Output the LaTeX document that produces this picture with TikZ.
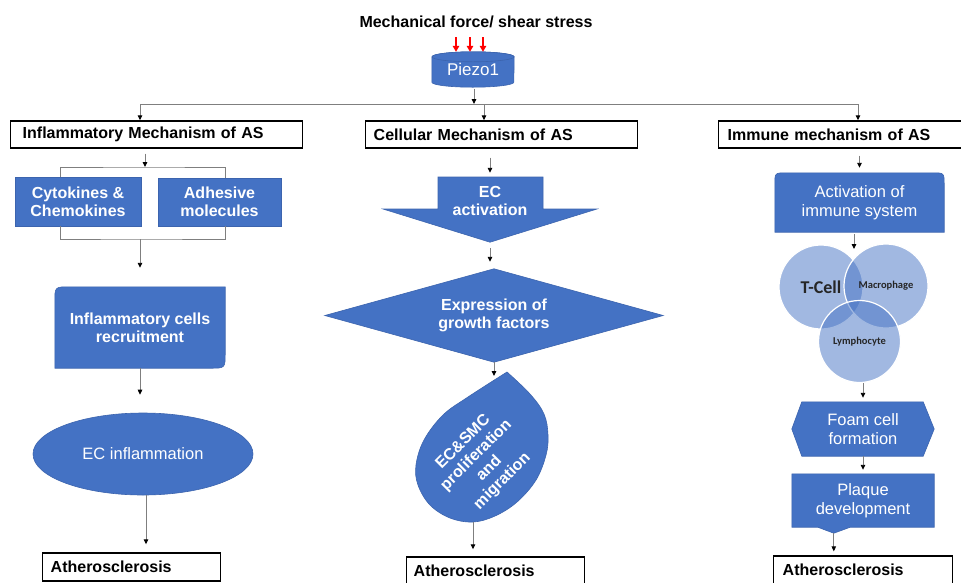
\documentclass[tikz,border=0pt]{standalone}
\usepackage{fontspec}
\setmainfont{Liberation Sans}
\newfontfamily\calibfont{Carlito}
\usetikzlibrary{arrows.meta,calc,shapes.geometric}
\definecolor{pblue}{HTML}{4472C4}
\definecolor{pedge}{HTML}{3C64AE}
\definecolor{lgray}{HTML}{7F7F7F}
\definecolor{vtext}{HTML}{262626}
\pgfdeclarelayer{background}
\pgfsetlayers{background,main}
\begin{document}
\begin{tikzpicture}[x=1pt,y=-1pt,
  conn/.style={draw=lgray, line width=0.9pt, -{Triangle[length=5pt,width=4.5pt,color=black]}},
  brk/.style={draw=lgray, line width=0.9pt},
  hdr/.style={draw=black, line width=1.4pt, inner ysep=0pt, minimum height=27pt, font=\bfseries\fontsize{16}{18}\selectfont, align=left, anchor=west},
  box/.style={inner sep=0pt, text=white, align=center},
  bf/.style={font=\bfseries\fontsize{16}{18.4}\selectfont},
  rf/.style={font=\fontsize{16.5}{19}\selectfont},
  bshape/.style={fill=pblue, draw=pedge, line width=0.6pt},
  venn/.style={circle, minimum size=84pt, inner sep=0pt, fill=pblue, fill opacity=0.5, text opacity=1, draw=white, draw opacity=1, line width=1.2pt, text=vtext},
  redarrow/.style={draw=red, line width=1.8pt, -{Triangle[length=6pt,width=6.5pt]}},
]
\useasboundingbox (0,0) rectangle (961,582);

% title and Piezo1
\node[font=\bfseries\fontsize{16}{19}\selectfont, inner sep=0pt] (title) at (476,22) {Mechanical force/ shear stress};
\node[box, font=\fontsize{17}{20}\selectfont, minimum width=82pt, minimum height=35pt] (piezo) at (473,69.5) {Piezo1};
\foreach \x [count=\i] in {456,470,483} {
  \coordinate (r\i) at (\x,37);
  \draw[redarrow] (r\i) -- (r\i |- piezo.north);
}

% header boxes
\node[hdr, inner xsep=12pt, text width=268pt] (inf) at (10,134.5) {Inflammatory Mechanism of AS};
\node[hdr, inner xsep=8pt, text width=256pt] (cell) at (365,134.5) {Cellular Mechanism of AS};
\node[hdr, inner xsep=9pt, text width=226pt] (imm) at (718,134.5) {Immune mechanism of AS};

% bus
\coordinate (busL) at (140,104);
\coordinate (busR) at (858,104);
\coordinate (busM) at (484,104);
\coordinate (busP) at (474,104);
\draw[brk] (busL) -- (busR);
\draw[conn, shorten <=2pt] (piezo.south -| busP) -- (busP);
\draw[conn] (busL) -- (busL |- inf.north);
\draw[conn] (busM) -- (busM |- cell.north);
\draw[conn] (busR) -- (busR |- imm.north);

% ---------- left column
\node[bshape, box, bf, minimum width=126pt, minimum height=49pt] (cyto) at (78,201.5) {Cytokines \&\\Chemokines};
\node[bshape, box, bf, minimum width=123pt, minimum height=48pt] (adh) at (219.5,202) {Adhesive\\molecules};
\coordinate (bt) at (145,167);
\coordinate (bb) at (140,239);
\coordinate (bxl) at (60,0);
\coordinate (bxr) at (225,0);
\draw[conn, shorten <=5pt] (inf.south -| bt) -- (bt);
\draw[brk] (bxl |- cyto.north) |- (bt) -| (bxr |- adh.north);
\draw[brk] (bxl |- cyto.south) |- (bb) -| (bxr |- adh.south);
\node[box, bf, minimum width=170pt, minimum height=81pt] (icr) at (140,327.5) {Inflammatory cells\\recruitment};
\draw[conn, shorten >=19pt] (bb) -- (bb |- icr.north);
\node[bshape, ellipse, box, rf, minimum width=220pt, minimum height=82pt] (ecinf) at (143,454) {EC inflammation};
\draw[conn, shorten >=18pt] (icr.south) -- (icr.south |- ecinf.north);
\node[hdr, inner xsep=8pt, text width=162pt, minimum height=28pt] (athL) at (42,567) {Atherosclerosis};
\draw[conn, shorten >=8pt] ([xshift=3pt]ecinf.south) -- ([xshift=3pt]ecinf.south |- athL.north);

% ---------- middle column
\node[box, minimum width=214pt, minimum height=65pt] (ecact) at (490,209.5) {};
\node[box, bf] (ecactt) at (490,201) {EC\\activation};
\draw[conn, shorten <=9pt, shorten >=4pt] (ecact.north |- cell.south) -- (ecact.north);
\node[box, bf, minimum width=338pt, minimum height=93pt] (gf) at (494,315.5) {Expression of\\growth factors};
\draw[conn, shorten <=6pt, shorten >=7pt] (ecact.south) -- (ecact.south |- gf.north);
\node[box, bf, rotate=45] (tear) at (483,462) {EC\&SMC\\proliferation\\and\\migration};
\coordinate (tearTop) at (494,376);
\coordinate (tearBot) at (473,522);
\draw[conn] (gf.south) -- (tearTop);
\node[hdr, inner xsep=7pt, text width=164pt, minimum height=28pt] (athM) at (406,571) {Atherosclerosis};
\draw[conn, shorten >=7pt] (tearBot) -- (tearBot |- athM.north);

% ---------- right column
\node[box, rf, minimum width=169pt, minimum height=59pt] (act) at (859.5,202.5) {Activation of\\immune system};
\draw[conn, shorten <=7pt, shorten >=5pt] (act.north |- imm.south) -- (act.north);
\node[venn, font=\calibfont\bfseries\fontsize{18}{20}\selectfont] (tc) at (821,287) {T-Cell};
\node[venn, font=\calibfont\bfseries\fontsize{10.5}{12}\selectfont] (mac) at (886,286) {Macrophage};
\node[venn, minimum size=82pt, font=\calibfont\bfseries\fontsize{10.5}{12}\selectfont] (lym) at (859.5,341.5) {Lymphocyte};
\coordinate (vt) at (854,249);
\draw[conn, shorten <=2pt] (vt |- act.south) -- (vt);
\node[box, rf, minimum width=142pt, minimum height=54pt] (foam) at (863,429) {Foam cell\\formation};
\draw[conn, shorten >=4pt] (foam.north |- lym.south) -- (foam.north);
\node[box, rf, minimum width=142pt, minimum height=53pt] (plaque) at (863,500.5) {Plaque\\development};
\draw[conn, shorten >=4pt] (foam.south) -- (plaque.north);
\coordinate (ptip) at ([xshift=42pt,yshift=-6pt]plaque.south west);
\node[hdr, inner xsep=9pt, text width=161pt, minimum height=28pt] (athR) at (773,570) {Atherosclerosis};
\draw[conn, shorten >=4pt] (ptip) -- (ptip |- athR.north);

% ---------- shape backgrounds
\begin{pgfonlayer}{background}
  \fill[white] (0,0) rectangle (961,582);
  % cylinder
  \fill[bshape] ([yshift=-5pt]piezo.north west) -- ([yshift=5pt]piezo.south west)
     arc[start angle=180, end angle=360, x radius=41pt, y radius=5pt]
     -- ([yshift=-5pt]piezo.north east)
     arc[start angle=0, end angle=180, x radius=41pt, y radius=5pt] -- cycle;
  \draw[bshape] ([yshift=-5pt]piezo.north) ellipse[x radius=41pt, y radius=5pt];
  % inflammatory cells recruitment
  \path[bshape] ([yshift=-15pt]icr.north west) .. controls (icr.north west) .. ([xshift=15pt]icr.north west)
     -- (icr.north east) -- ([yshift=15pt]icr.south east) .. controls (icr.south east) .. ([xshift=-15pt]icr.south east)
     -- (icr.south west) -- cycle;
  % EC activation arrow
  \path[bshape] (438,177) -- (543,177) -- (543,209) -- (597,209) -- (ecact.south) -- (383,209) -- (438,209) -- cycle;
  % diamond
  \path[bshape] (gf.north) -- (gf.east) -- (gf.south) -- (gf.west) -- cycle;
  % teardrop
  \path[bshape] plot[smooth, tension=0.6] coordinates {(507,372) (530,394) (544,414) (548,435) (546,455) (536,480) (517,502) (495,516) (473,522) (450,518) (430,505) (418,485) (416,465) (424,440) (443,415) (468,397) (507,372)} -- cycle;
  % activation of immune system
  \path[bshape] (act.south west) -- ([yshift=-12pt]act.north west) .. controls (act.north west) .. ([xshift=12pt]act.north west)
     -- ([xshift=-12pt]act.north east) .. controls (act.north east) .. ([yshift=-12pt]act.north east)
     -- (act.south east) -- cycle;
  % foam cell hexagon
  \path[bshape] ([xshift=10pt]foam.north west) -- ([xshift=-11pt]foam.north east) -- (foam.east)
     -- ([xshift=-11pt]foam.south east) -- ([xshift=10pt]foam.south west) -- (foam.west) -- cycle;
  % plaque development
  \path[bshape] (plaque.north west) -- (plaque.north east) -- (plaque.south east)
     -- ([xshift=-84pt]plaque.south east) -- (ptip) -- ([xshift=26pt]plaque.south west)
     -- (plaque.south west) -- cycle;
\end{pgfonlayer}
\end{tikzpicture}
\end{document}
